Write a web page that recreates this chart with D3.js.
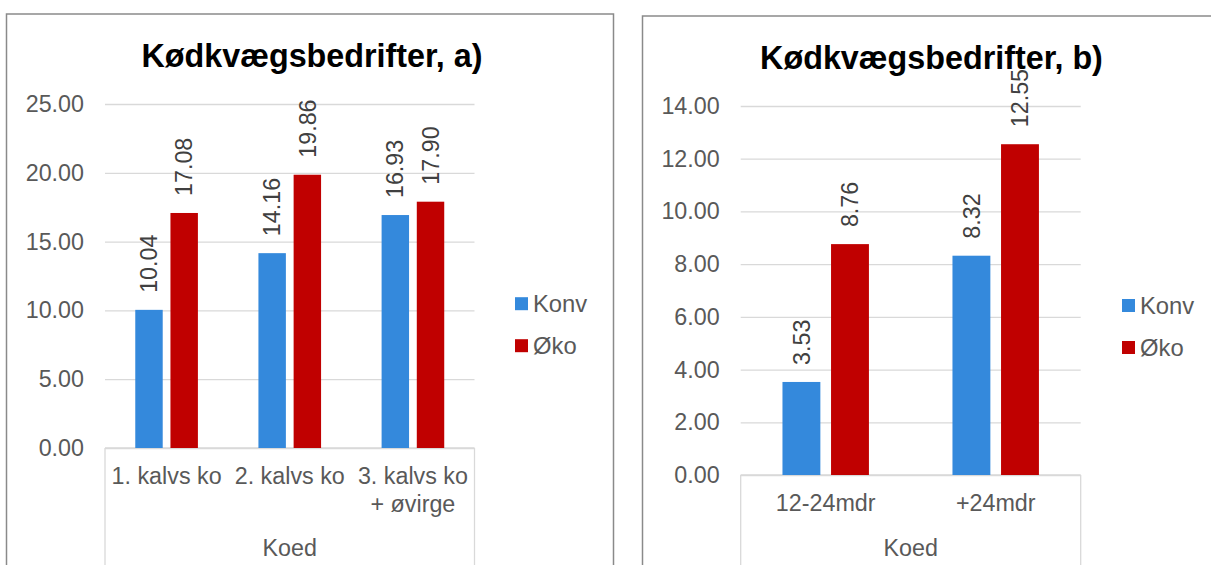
<!DOCTYPE html>
<html>
<head>
<meta charset="utf-8">
<script src="https://cdn.jsdelivr.net/npm/d3@7"></script>
<style>
  html, body { margin: 0; padding: 0; background: #fff; }
  svg { display: block; font-family: "Liberation Sans", Arial, sans-serif; }
</style>
</head>
<body>
<svg id="chart" width="1211" height="565"></svg>
<script>
// Series shared by both panels
const seriesNames = ["Konv", "Øko"];
const seriesColors = ["#3489dc", "#c00000"];
const axisTitle = "Koed";

// Panel a)
const titleA = "Kødkvægsbedrifter, a)";
const categoriesA = [["1. kalvs ko"], ["2. kalvs ko"], ["3. kalvs ko", "+ øvirge"]];
const konvA = [10.04, 14.16, 16.93];
const okoA = [17.08, 19.86, 17.90];
const ticksA = [0, 5, 10, 15, 20, 25];

// Panel b)
const titleB = "Kødkvægsbedrifter, b)";
const categoriesB = [["12-24mdr"], ["+24mdr"]];
const konvB = [3.53, 8.32];
const okoB = [8.76, 12.55];
const ticksB = [0, 2, 4, 6, 8, 10, 12, 14];

const svg = d3.select("#chart");
const fmt = d3.format(".2f");
const textGray = "#595959";
const gridGray = "#d9d9d9";
const fs = 23.3;

function drawPanel(cfg) {
  const g = svg.append("g");

  // outer frame
  g.append("rect")
    .attr("x", cfg.frame.x).attr("y", cfg.frame.y)
    .attr("width", cfg.frame.w).attr("height", cfg.frame.h)
    .attr("fill", "none").attr("stroke", "#8a8a8a").attr("stroke-width", 1.5);

  // title
  g.append("text")
    .attr("x", cfg.titleX).attr("y", cfg.titleY)
    .attr("text-anchor", "middle")
    .attr("font-size", 32.3).attr("font-weight", "bold").attr("fill", "#000")
    .text(cfg.title);

  const keys = cfg.categories.map(c => c.join(" "));
  const x0 = d3.scaleBand().domain(keys).range([cfg.left, cfg.right]);
  const x1 = d3.scaleBand().domain(seriesNames).range([0, x0.bandwidth()])
    .paddingInner(0.22).paddingOuter(0.86);
  const y = d3.scaleLinear().domain([0, cfg.yMax]).range([cfg.zero, cfg.top]);

  // value axis with gridlines
  const yAxis = d3.axisLeft(y).tickValues(cfg.ticks).tickFormat(fmt)
    .tickSize(-(cfg.right - cfg.left)).tickPadding(21);
  const ya = g.append("g").attr("transform", `translate(${cfg.left},0)`).call(yAxis);
  ya.select(".domain").remove();
  ya.selectAll("line").attr("stroke", gridGray).attr("stroke-width", 1.3);
  ya.selectAll("text").attr("font-size", fs).attr("fill", textGray)
    .attr("font-family", "'Liberation Sans', Arial, sans-serif");

  // category axis frame
  g.append("line").attr("x1", cfg.left).attr("x2", cfg.right)
    .attr("y1", cfg.zero).attr("y2", cfg.zero)
    .attr("stroke", gridGray).attr("stroke-width", 1.3);
  [cfg.left, cfg.right].forEach(xv => {
    g.append("line").attr("x1", xv).attr("x2", xv)
      .attr("y1", cfg.zero).attr("y2", 640)
      .attr("stroke", gridGray).attr("stroke-width", 1.3);
  });

  // bars
  const rows = keys.map((k, i) => ({ key: k, values: [cfg.konv[i], cfg.oko[i]] }));
  const groups = g.selectAll("g.grp").data(rows).join("g")
    .attr("class", "grp")
    .attr("transform", d => `translate(${x0(d.key)},0)`);
  groups.selectAll("rect").data(d => d.values.map((v, j) => ({ s: seriesNames[j], v, j })))
    .join("rect")
    .attr("x", d => x1(d.s)).attr("width", x1.bandwidth())
    .attr("y", d => y(d.v)).attr("height", d => cfg.zero - y(d.v))
    .attr("fill", d => seriesColors[d.j]);

  // rotated value labels
  groups.selectAll("text.val").data(d => d.values.map((v, j) => ({ s: seriesNames[j], v })))
    .join("text").attr("class", "val")
    .attr("transform", d => `translate(${x1(d.s) + x1.bandwidth() / 2},${y(d.v) - 17}) rotate(-90)`)
    .attr("dy", "0.35em")
    .attr("font-size", fs).attr("fill", "#404040")
    .text(d => fmt(d.v));

  // category labels (may wrap to two lines)
  cfg.categories.forEach((lines, i) => {
    const t = g.append("text")
      .attr("text-anchor", "middle").attr("font-size", fs).attr("fill", textGray);
    lines.forEach((ln, k) => {
      t.append("tspan").attr("x", x0(keys[i]) + x0.bandwidth() / 2)
        .attr("y", cfg.zero + 35.5 + k * 28.5).text(ln);
    });
  });

  // axis title
  g.append("text")
    .attr("x", (cfg.left + cfg.right) / 2).attr("y", cfg.axisTitleY)
    .attr("text-anchor", "middle").attr("font-size", fs).attr("fill", textGray)
    .text(axisTitle);

  // legend
  seriesNames.forEach((name, j) => {
    const ly = cfg.legendY + j * 42;
    g.append("rect").attr("x", cfg.legendX).attr("y", ly - 6.5)
      .attr("width", 13).attr("height", 13).attr("fill", seriesColors[j]);
    g.append("text").attr("x", cfg.legendX + 18).attr("y", ly + 8)
      .attr("font-size", fs + 0.5).attr("fill", textGray).text(name);
  });
}

drawPanel({
  title: titleA, categories: categoriesA, konv: konvA, oko: okoA, ticks: ticksA, yMax: 25,
  frame: { x: 6.5, y: 14, w: 607, h: 620 },
  titleX: 312, titleY: 67,
  left: 105, right: 474.5, zero: 448, top: 104,
  axisTitleY: 555.5,
  legendX: 515, legendY: 303.7
});

drawPanel({
  title: titleB, categories: categoriesB, konv: konvB, oko: okoB, ticks: ticksB, yMax: 14,
  frame: { x: 642.5, y: 16, w: 620, h: 620 },
  titleX: 931.5, titleY: 69,
  left: 740.7, right: 1080.7, zero: 475, top: 106,
  axisTitleY: 555.5,
  legendX: 1122, legendY: 305.5
});
</script>
</body>
</html>
